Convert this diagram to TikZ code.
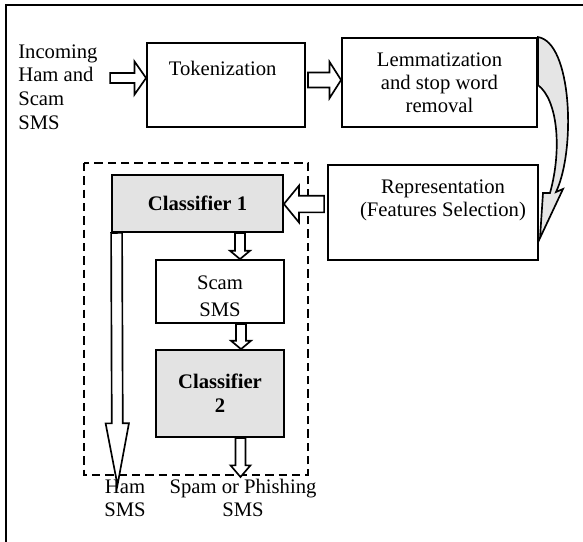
\documentclass[tikz,border=0pt]{standalone}
\usepackage{fontspec}
\setmainfont{Liberation Serif}
\usetikzlibrary{calc}
\tikzset{
  box/.style={draw, line width=1.1pt, inner sep=0pt},
  cls/.style={box, fill=gray!22},
  harr/.style={draw, line width=1pt, fill=white, line join=miter},
  txt/.style={font=\fontsize{12.4}{13.8}\selectfont, align=center, inner sep=0pt},
  bold/.style={txt, font=\fontsize{12.4}{14.2}\selectfont\bfseries},
}
% hollow block arrow: from, to, half shaft, half head, head length
\newcommand\harrow[5]{%
  \path[harr] let \p1=($(#2)-(#1)$), \n1={veclen(\x1,\y1)}, \n2={atan2(\y1,\x1)} in
   [shift={(#1)}, rotate=\n2] (0pt,#3) -- ({\n1*1pt-#5},#3) -- ({\n1*1pt-#5},#4)
   -- ({\n1*1pt},0pt) -- ({\n1*1pt-#5},-#4) -- ({\n1*1pt-#5},-#3) -- (0pt,-#3) -- cycle;}
\begin{document}
\begin{tikzpicture}[x=0.6pt, y=-0.6pt]
\useasboundingbox (0,0) rectangle (583,542);
% frame remnants
\draw[line width=1pt] (6,542) -- (6,5) -- (583,5);

% dashed group
\draw[line width=1.3pt, dash pattern=on 5pt off 3pt] (84,163) rectangle (308,475);

\node[txt, align=left, anchor=north west, font=\fontsize{12.4}{14.2}\selectfont] (in) at (18,44)
  {Incoming\\Ham and\\Scam\\SMS};
\node[box, minimum width=158*0.6pt, minimum height=84*0.6pt,
  label={[txt, anchor=north, yshift=-11pt, xshift=-2pt]north:Tokenization}] (tok) at (226,85) {};
\node[box, txt, minimum width=195*0.6pt, minimum height=89*0.6pt] (lem) at (439.5,82.5)
  {Lemmatization\\and stop word\\removal};
\node[box, minimum width=210*0.6pt, minimum height=95*0.6pt,
  label={[txt, anchor=north, yshift=-9pt, xshift=6pt]north:{Representation\\(Features Selection)}}] (rep) at (433,212.5) {};
\node[cls, bold, minimum width=171*0.6pt, minimum height=57*0.6pt] (c1) at (197.5,203.5) {Classifier 1};
\node[box, minimum width=128*0.6pt, minimum height=63*0.6pt,
  label={[txt, anchor=north, yshift=-10pt, font=\fontsize{12.4}{16}\selectfont]north:{Scam\\SMS}}] (scam) at (220,291.5) {};
\node[cls, bold, minimum width=128*0.6pt, minimum height=87*0.6pt] (c2) at (220,393.5) {Classifier\\2};

\node[txt] (ham) at (125,498) {Ham\\SMS};
\node[txt] (spam) at (243,498) {Spam or Phishing\\SMS};

\coordinate (hamtip) at (117.5,485);
\coordinate (spamtip) at (240.5,477);

% block arrows
\harrow{$(tok.west)+(-36,-7)$}{$(tok.west)+(0,-7)$}{3pt}{10pt}{7pt}
\harrow{$(tok.east)+(2,-5)$}{$(lem.west)+(0,-2.5)$}{4.5pt}{11pt}{7pt}
\harrow{$(rep.west)+(-3,-8.5)$}{$(c1.east)+(0,0.5)$}{5pt}{11pt}{9pt}
\harrow{$(c1.south)+(42.5,0)$}{$(scam.north)+(20,0)$}{3pt}{6pt}{5pt}
\harrow{$(scam.south)+(21,0)$}{$(c2.north)+(21,0)$}{3pt}{6pt}{5pt}
\harrow{$(c2.south)+(20.5,0)$}{spamtip}{3pt}{6pt}{7pt}
\harrow{$(c1.south west)+(5.5,0)$}{hamtip}{3.3pt}{7pt}{37pt}

% curved arrow from lemmatization to representation
\filldraw[fill=gray!20, line width=1pt, line join=miter]
  (lem.north east) .. controls (572,42) and (576,150) .. (556,192)
  -- (563,189) -- (540,238) -- (543,193) -- (550,193)
  .. controls (562,150) and (558,100) .. ($(lem.east)+(0,2.5)$) -- cycle;
\end{tikzpicture}
\end{document}
